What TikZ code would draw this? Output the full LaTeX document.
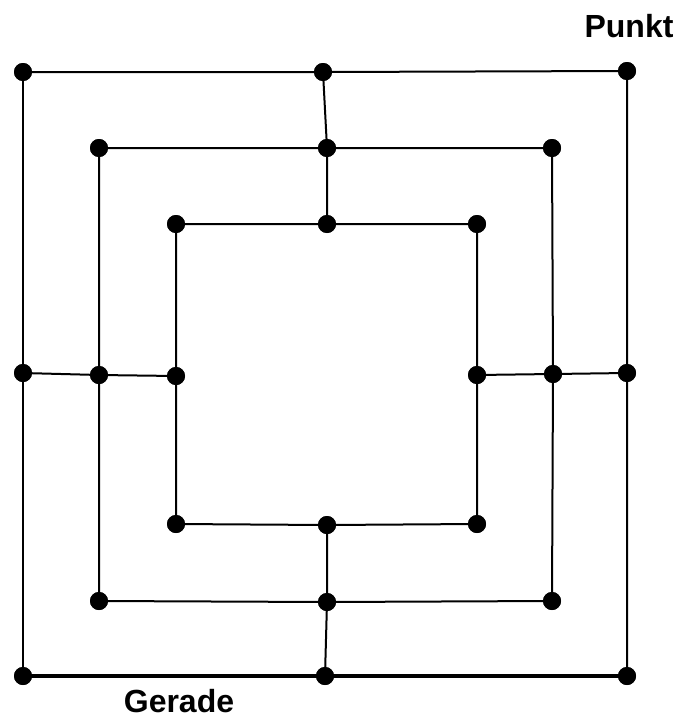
\documentclass[tikz,border=0pt]{standalone}
\usepackage{fontspec}
\setmainfont{Liberation Sans}
\begin{document}
\begin{tikzpicture}[x=1pt,y=-1pt,
  dot/.style={circle,fill=black,inner sep=0pt,minimum size=18pt},
  edge/.style={line width=2pt},
  thickedge/.style={line width=4.5pt},
  lbl/.style={font=\fontsize{32}{38}\selectfont\bfseries,inner sep=0pt,anchor=base}]
\useasboundingbox (0,0) rectangle (677,720);
% outer
\node[dot] (o1) at (23,72) {};
\node[dot] (o2) at (323,72) {};
\node[dot] (o3) at (627,71) {};
\node[dot] (o4) at (627,373) {};
\node[dot] (o5) at (627,676) {};
\node[dot] (o6) at (325,676) {};
\node[dot] (o7) at (23,676) {};
\node[dot] (o8) at (23,373) {};
% middle
\node[dot] (m1) at (99,148) {};
\node[dot] (m2) at (327,148) {};
\node[dot] (m3) at (552,148) {};
\node[dot] (m4) at (553,374) {};
\node[dot] (m5) at (552,601) {};
\node[dot] (m6) at (327,602) {};
\node[dot] (m7) at (99,601) {};
\node[dot] (m8) at (99,375) {};
% inner
\node[dot] (i1) at (176,224) {};
\node[dot] (i2) at (327,224) {};
\node[dot] (i3) at (477,224) {};
\node[dot] (i4) at (477,375) {};
\node[dot] (i5) at (477,524) {};
\node[dot] (i6) at (327,525) {};
\node[dot] (i7) at (176,524) {};
\node[dot] (i8) at (176,376) {};
% outer square
\draw[edge] (o1.center) -- (o2.center) -- (o3.center) -- (o4.center) -- (o5.center);
\draw[thickedge] (o5.center) -- (o6.center) -- (o7.center);
\draw[edge] (o7.center) -- (o8.center) -- (o1.center);
% middle square
\draw[edge] (m1.center) -- (m2.center) -- (m3.center) -- (m4.center) -- (m5.center) -- (m6.center) -- (m7.center) -- (m8.center) -- cycle;
% inner square
\draw[edge] (i1.center) -- (i2.center) -- (i3.center) -- (i4.center) -- (i5.center) -- (i6.center) -- (i7.center) -- (i8.center) -- cycle;
% cross connectors
\draw[edge] (o2.center) -- (m2.center) -- (i2.center);
\draw[edge] (o8.center) -- (m8.center) -- (i8.center);
\draw[edge] (o4.center) -- (m4.center) -- (i4.center);
\draw[edge] (o6.center) -- (m6.center) -- (i6.center);
% redraw dots on top
\foreach \n in {o1,o2,o3,o4,o5,o6,o7,o8,m1,m2,m3,m4,m5,m6,m7,m8,i1,i2,i3,i4,i5,i6,i7,i8}
  \fill (\n) circle (9pt);
% labels
\node[lbl] (punkt) at (629,37) {Punkt};
\node[lbl] (gerade) at (179,712) {Gerade};
\end{tikzpicture}
\end{document}
